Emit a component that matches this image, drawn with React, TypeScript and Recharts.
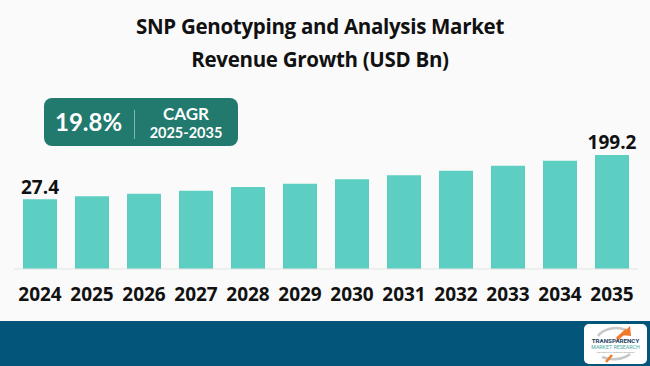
import React from 'react';
import { BarChart, Bar, XAxis, YAxis, LabelList } from 'recharts';

const years = ['2024', '2025', '2026', '2027', '2028', '2029', '2030', '2031', '2032', '2033', '2034', '2035'];
const revenue = [27.4, 39.0, 49.1, 60.7, 75.1, 87.9, 104.9, 120.5, 138.3, 157.7, 177.1, 199.2];
const labeledYears = ['2024', '2035'];

const title = ['SNP Genotyping and Analysis Market', 'Revenue Growth (USD Bn)'];
const cagrValue = '19.8%';
const cagrLabel = 'CAGR';
const cagrPeriod = '2025-2035';

const Y_MIN = -242.9;
const Y_MAX = 412.4;

const data = years.map((y, i) => ({
  year: y,
  value: revenue[i],
  label: labeledYears.includes(y) ? revenue[i].toFixed(1) : '',
}));

const FONT = '"Open Sans", sans-serif';

export default function App() {
  return (
    <div style={{ position: 'absolute', left: 0, top: 0, width: 650, height: 366, background: '#fafafa', overflow: 'hidden', fontFamily: FONT }}>
      <BarChart
        width={650}
        height={366}
        data={data}
        margin={{ top: 100, right: 12, bottom: 67, left: 14 }}
        style={{ position: 'absolute', left: 0, top: 0 }}
      >
        <YAxis hide domain={[Y_MIN, Y_MAX]} allowDataOverflow type="number" />
        <XAxis
          dataKey="year"
          height={30}
          axisLine={{ stroke: '#e2e2e2', strokeWidth: 1 }}
          tickLine={false}
          tickSize={6}
          tickMargin={13}
          interval={0}
          tick={{ fill: '#111', fontSize: 19, fontWeight: 700, fontFamily: FONT }}
        />
        <Bar dataKey={(d: any) => [Y_MIN, d.value]} fill="#5dcfc2" barSize={34} isAnimationActive={false}>
          <LabelList dataKey="label" position="top" offset={5.5} style={{ fill: '#111', fontSize: 19, fontWeight: 700, fontFamily: FONT }} />
        </Bar>
      </BarChart>

      {title.map((t, i) => (
        <div
          key={i}
          style={{
            position: 'absolute',
            left: 0,
            width: 640,
            top: i === 0 ? 12 : 45,
            textAlign: 'center',
            fontSize: 20.5,
            fontWeight: 700,
            color: '#111',
            lineHeight: '28px',
            letterSpacing: -0.3,
          }}
        >
          {t}
        </div>
      ))}

      <div
        style={{
          position: 'absolute',
          left: 44,
          top: 98,
          width: 194,
          height: 48,
          borderRadius: 8,
          background: '#22796d',
          fontFamily: 'Lato, sans-serif',
          color: '#fff',
        }}
      >
        <div style={{ position: 'absolute', left: 11, top: 6, fontSize: 24, fontWeight: 700, lineHeight: '36px' }}>{cagrValue}</div>
        <div style={{ position: 'absolute', left: 90, top: 12, width: 1, height: 29, background: 'rgba(255,255,255,0.45)' }} />
        <div style={{ position: 'absolute', left: 96, width: 92, top: 5, textAlign: 'center', fontSize: 17, fontWeight: 700, lineHeight: '22px' }}>{cagrLabel}</div>
        <div style={{ position: 'absolute', left: 96, width: 92, top: 26, textAlign: 'center', fontSize: 14.5, fontWeight: 700, lineHeight: '18px' }}>{cagrPeriod}</div>
      </div>

      <div style={{ position: 'absolute', left: 0, top: 321, width: 650, height: 45, background: '#04557a' }} />
      <svg style={{ position: 'absolute', left: 584, top: 324 }} width={64} height={40}>
        <rect x={0} y={0} width={63} height={40} rx={5} fill="#ffffff" />
        <path d="M14 12 A20 14 0 0 1 42 6" fill="none" stroke="#c8c8c8" strokeWidth={2.5} />
        <path d="M18 33 A20 12 0 0 0 46 30" fill="none" stroke="#c8c8c8" strokeWidth={2.5} />
        <path d="M37 11 L46 2 L47 12 Z" fill="#f07a2b" />
        <path d="M33 15 L43 6" stroke="#f07a2b" strokeWidth={3.5} />
        <path d="M22 38 L28 31" stroke="#f07a2b" strokeWidth={2.5} />
        <text x={31.5} y={18.5} textAnchor="middle" fontSize={6.2} fontWeight={700} fill="#1e3d5c" fontFamily="Roboto, sans-serif">TRANSPARENCY</text>
        <text x={31.5} y={25} textAnchor="middle" fontSize={5.3} fill="#4aa8a0" fontFamily="Roboto, sans-serif">MARKET RESEARCH</text>
        <text x={31.5} y={29} textAnchor="middle" fontSize={2.4} fill="#888" fontFamily="Roboto, sans-serif">Intelligence for Business Excellence</text>
      </svg>
    </div>
  );
}
